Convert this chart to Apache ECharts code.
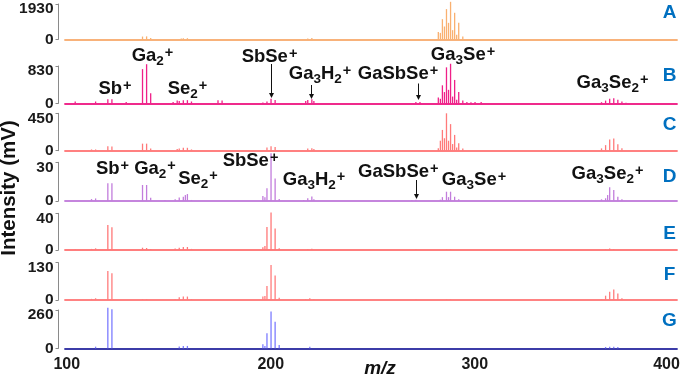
<!DOCTYPE html>
<html>
<head>
<meta charset="utf-8">
<script src="https://cdn.jsdelivr.net/npm/echarts@6/dist/echarts.min.js"></script>
<style>
  html, body { margin: 0; padding: 0; background: #fff; }
  #chart { width: 685px; height: 378px; }
</style>
</head>
<body>
<div id="chart"></div>
<script>
// panel names and y-axis top ticks
const panelNames = ['A', 'B', 'C', 'D', 'E', 'F', 'G'];
const yMax = [1930, 830, 450, 30, 40, 130, 260];
const xMin = 100, xMax = 400, xStep = 100;

// peaks [m/z, intensity]
const peaksA = [[138,150],[140,160],[142,70],[157,50],[158,60],[160,60],[219,50],[221,70],
  [283,400],[284,350],[285,1100],[286,700],[287,1650],[288,900],[289,2050],[290,500],
  [291,1450],[292,250],[293,900],[295,150]];
const peaksB = [[105,40],[115,40],[121,90],[123,90],[130,30],[138,760],[140,870],[142,225],
  [153,30],[155,60],[156,50],[158,70],[160,70],[162,40],[175,70],[177,60],
  [197,20],[199,40],[201,100],[203,75],[218,50],[219,75],[221,90],[222,50],[272,30],[274,30],
  [283,130],[284,100],[285,400],[286,250],[287,800],[288,300],[289,880],[290,150],[291,520],
  [292,80],[293,250],[295,60],[297,30],[299,25],[301,30],[304,30],
  [363,25],[365,60],[367,100],[369,110],[371,80],[373,40],[375,15]];
const peaksC = [[113,15],[115,15],[121,55],[123,50],[138,85],[140,85],[142,25],
  [155,20],[156,25],[158,35],[160,35],[162,15],[199,40],[201,55],[203,45],[219,25],[221,30],[222,20],
  [283,30],[284,120],[285,250],[286,150],[287,450],[288,120],[289,320],[290,80],[291,190],
  [292,40],[293,90],[295,25],[363,28],[365,67],[367,134],[369,146],[371,79],[373,28]];
const peaksD = [[113,1.5],[115,2],[121,13.7],[123,13.7],[138,12.4],[140,12.4],[142,2.6],[149,0.8],
  [154,1.3],[156,2.8],[158,3.3],[159,4.6],[160,5.4],[162,0.8],
  [197,3.8],[198,3],[199,9.8],[201,37],[203,17.5],[205,1.5],[217,0.8],[219,2.1],[221,3.4],[222,1.3],
  [270,0.8],[272,1],[284,1],[285,3],[287,7.2],[288,3],[289,7.2],[291,3.3],[293,1.3],
  [363,1.3],[365,2.1],[366,4.6],[367,10.6],[369,8.5],[371,3.3],[373,1.3]];
const peaksE = [[105,0.8],[113,1.2],[115,1.8],[121,27.2],[123,24.7],[138,2.5],[140,2.2],[142,1],
  [154,1.5],[156,2.5],[158,3.3],[160,3.3],[162,1.2],[197,2.9],[198,4.3],[199,25],[201,41],[203,23.5],
  [205,1.8],[219,1],[221,1.3],[272,0.8],[287,0.8],[289,0.8],[365,1],[367,1.5],[369,1.2]];
const peaksF = [[113,4],[115,6],[121,101],[123,93],[138,3],[140,3],
  [154,3.5],[156,10],[158,12],[160,12],[162,3.5],[197,12],[198,14],[199,49],[201,122],[203,85],
  [205,8],[218,3.5],[220,6],[222,3],[272,2],[287,2],[289,2],
  [363,3.5],[365,15],[367,29],[369,37],[371,23],[373,6]];
const peaksG = [[115,11],[121,276],[123,265],[156,12],[158,16],[160,16],
  [197,27],[198,16],[199,103],[201,249],[203,181],[205,23],[220,11],
  [365,9],[367,11],[369,11],[371,9]];
const allPeaks = [peaksA, peaksB, peaksC, peaksD, peaksE, peaksF, peaksG];

// annotations: [rich text, centre x, text baseline y]
const labelsB = [
  ['Sb{p|+}', 115, 95],
  ['Ga{s|2}{p|+}', 152.5, 62],
  ['Se{s|2}{p|+}', 187.5, 95],
  ['SbSe{p|+}', 269.5, 63],
  ['Ga{s|3}H{s|2}{p|+}', 320, 80],
  ['GaSbSe{p|+}', 398, 80.5],
  ['Ga{s|3}Se{p|+}', 463, 61.5],
  ['Ga{s|3}Se{s|2}{p|+}', 612.5, 89]
];
const labelsD = [
  ['Sb{p|+}', 112.5, 175],
  ['Ga{s|2}{p|+}', 155, 175.5],
  ['Se{s|2}{p|+}', 198, 185],
  ['SbSe{p|+}', 250.5, 167],
  ['Ga{s|3}H{s|2}{p|+}', 314, 186.5],
  ['GaSbSe{p|+}', 398.3, 178],
  ['Ga{s|3}Se{p|+}', 474, 186.5],
  ['Ga{s|3}Se{s|2}{p|+}', 607.5, 180.5]
];
// arrows: panel index, m/z, start / end y (px)
const arrows = [
  {grid: 1, m: 201, y1: 64, y2: 98},
  {grid: 1, m: 220.7, y1: 85, y2: 99},
  {grid: 1, m: 272.8, y1: 83.5, y2: 100},
  {grid: 3, m: 272.3, y1: 180, y2: 199}
];

// layout
const FONT = '"Liberation Sans", Arial, Helvetica, sans-serif';
const gridTop = [4, 66, 113.3, 162.3, 213.3, 262.7, 310];
const gridHeight = [35.3, 37.3, 37.4, 38.7, 36.7, 37.3, 38.3];
const barColor = ['#f9b070', '#ef2088', '#ff7a7a', '#c27ddc', '#ff7878', '#ff7c7c', '#7c7cff'];
const lineColor = ['#f8b27a', '#ef2a8c', '#ff8080', '#c585dd', '#ff7e7e', '#ff8282', '#3c3ca8'];
const letterY = [12.3, 75.5, 125, 176.3, 233.3, 275, 321];

const chart = echarts.init(document.getElementById('chart'));

const grids = [], xAxes = [], yAxes = [], series = [];
panelNames.forEach((name, i) => {
  const last = i === panelNames.length - 1;
  grids.push({left: 65, right: 8, top: gridTop[i], height: gridHeight[i], outerBoundsMode: 'none'});
  xAxes.push({
    type: 'value', gridIndex: i, min: xMin, max: xMax, interval: xStep,
    axisLine: {show: true, onZero: false, lineStyle: {color: lineColor[i], width: 1.8}},
    axisTick: {show: false},
    splitLine: {show: false},
    axisLabel: {
      show: last, margin: 8,
      fontFamily: FONT, fontWeight: 'bold', fontSize: 16, color: '#1a1a1a',
      formatter: v => v === xMax ? '{r|' + v + '}' : '{l|' + v + '}',
      rich: {
        l: {fontFamily: FONT, fontWeight: 'bold', fontSize: 16, color: '#1a1a1a', padding: [0, 0, 0, 3.5]},
        r: {fontFamily: FONT, fontWeight: 'bold', fontSize: 16, color: '#1a1a1a', padding: [0, 21, 0, 0]}
      }
    }
  });
  yAxes.push({
    type: 'value', gridIndex: i, min: 0, max: yMax[i], interval: yMax[i], offset: 6.5,
    axisLine: {show: true, lineStyle: {color: '#8a8a8a', width: 1}},
    axisTick: {show: true, length: 3, lineStyle: {color: '#8a8a8a', width: 1}},
    splitLine: {show: false},
    axisLabel: {
      margin: 5, fontFamily: FONT, fontWeight: 'bold', fontSize: 15.5, color: '#1a1a1a',
      formatter: v => v === 0 ? '0' : '{t|' + v + '}',
      rich: {
        t: {fontFamily: FONT, fontWeight: 'bold', fontSize: 15.5, color: '#1a1a1a', padding: [10, 0, 0, 0]}
      }
    }
  });
  series.push({
    name: name, type: 'bar', xAxisIndex: i, yAxisIndex: i,
    data: allPeaks[i], barWidth: 1.3, clip: false, silent: true,
    itemStyle: {color: barColor[i]}
  });
});

chart.setOption({
  animation: false,
  backgroundColor: '#fff',
  grid: grids, xAxis: xAxes, yAxis: yAxes, series: series
});

// text annotations and arrows
const rich = {
  s: {fontFamily: FONT, fontWeight: 'bold', fontSize: 13.5, fill: '#111', verticalAlign: 'bottom'},
  p: {fontFamily: FONT, fontWeight: 'bold', fontSize: 14.5, fill: '#111', verticalAlign: 'top', padding: [2, 0, 0, 1]}
};
const label = ([t, x, base]) => ({
  type: 'text', x: x, y: base - 6.5, z: 10,
  style: {text: t, fontFamily: FONT, fontWeight: 'bold', fontSize: 18.5, lineHeight: 25,
    fill: '#111', align: 'center', verticalAlign: 'middle', rich: rich}
});
const elements = [];
labelsB.concat(labelsD).forEach(l => elements.push(label(l)));
panelNames.forEach((name, i) => {
  elements.push({type: 'text', x: 669.5, y: letterY[i], z: 10,
    style: {text: name, fontFamily: FONT, fontWeight: 'bold', fontSize: 19, fill: '#0070c0',
      align: 'center', verticalAlign: 'middle'}});
});
arrows.forEach(a => {
  const x = Math.round(chart.convertToPixel({xAxisIndex: a.grid}, a.m)) + 0.5;
  elements.push({type: 'line', z: 10, shape: {x1: x, y1: a.y1, x2: x, y2: a.y2 - 4},
    style: {stroke: '#111', lineWidth: 1}});
  elements.push({type: 'polygon', z: 10, shape: {points: [[x - 2.5, a.y2 - 5], [x + 2.5, a.y2 - 5], [x, a.y2]]},
    style: {fill: '#111'}});
});
elements.push({type: 'text', x: 9, y: 188, rotation: Math.PI / 2, z: 10,
  style: {text: 'Intensity (mV)', fontFamily: FONT, fontWeight: 'bold', fontSize: 20.5, fill: '#111',
    align: 'center', verticalAlign: 'middle'}});
elements.push({type: 'text', x: 380, y: 369, z: 10,
  style: {text: 'm/z', fontFamily: FONT, fontWeight: 'bold', fontStyle: 'italic', fontSize: 19, fill: '#111',
    align: 'center', verticalAlign: 'middle'}});

chart.setOption({graphic: {elements: elements}});
</script>
</body>
</html>
